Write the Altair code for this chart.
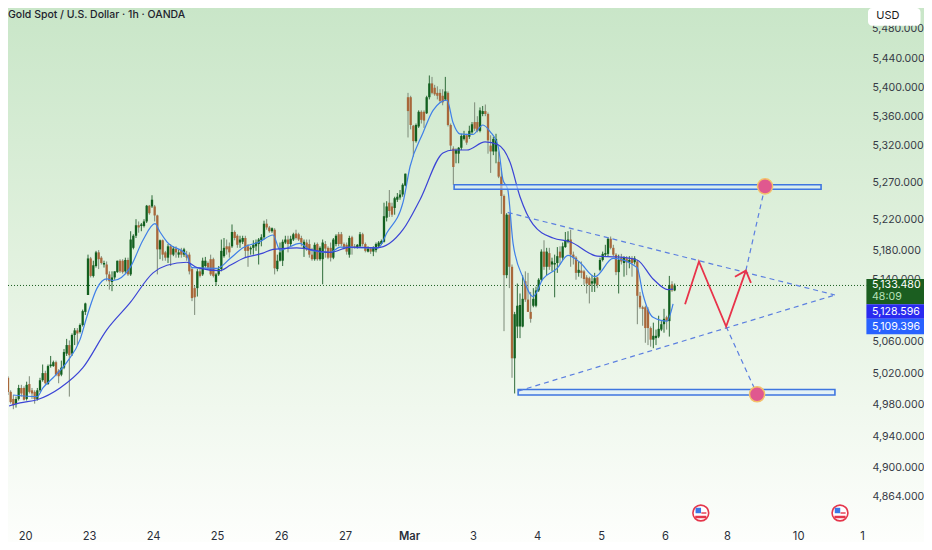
import altair as alt
import pandas as pd

FONT = "Inter"

opens = [5014,4996,4987,4981,4987,5001,5001,4987,5006,4998,4996,4987,4998,5011,5020,5006,5029,5029,5034,5023,
5018,5027,5045,5056,5045,5069,5075,5073,5082,5099,5121,5169,5146,5159,5177,5170,5161,5161,5148,5138,
5144,5151,5166,5166,5152,5167,5148,5183,5199,5213,5212,5212,5218,5239,5238,5238,5226,5181,5193,5177,
5170,5185,5174,5182,5174,5180,5174,5174,5174,5155,5130,5130,5152,5148,5159,5163,5168,5168,5138,5148,
5155,5172,5185,5185,5185,5204,5199,5190,5191,5196,5185,5181,5183,5185,5188,5193,5197,5215,5210,5205,
5207,5155,5166,5166,5190,5194,5188,5194,5202,5201,5196,5182,5190,5188,5174,5168,5188,5168,5168,5188,
5183,5183,5170,5188,5201,5201,5188,5187,5174,5197,5185,5184,5185,5201,5188,5178,5182,5178,5180,5185,
5188,5191,5223,5243,5238,5236,5247,5250,5254,5266,5386,5386,5347,5326,5346,5366,5366,5364,5386,5405,
5399,5392,5392,5388,5383,5392,5348,5316,5309,5309,5317,5329,5334,5332,5338,5352,5352,5340,5363,5367,
5363,5320,5312,5312,5298,5278,5252,5147,5227,5158,5039,5080,5080,5080,5139,5115,5099,5107,5107,5127,
5141,5178,5158,5176,5161,5161,5163,5178,5170,5184,5191,5194,5174,5170,5150,5153,5152,5144,5143,5136,
5136,5144,5154,5167,5174,5175,5195,5183,5174,5151,5170,5163,5169,5164,5169,5164,5165,5120,5105,5105,
5102,5078,5063,5065,5067,5076,5083,5092,5087,5135,5127]
highs = [5016,4998,4992,4990,5005,5005,5003,5009,5016,5001,4998,5001,5014,5031,5023,5031,5042,5036,5036,5025,
5036,5051,5064,5062,5071,5078,5078,5084,5102,5111,5174,5171,5166,5179,5180,5172,5166,5165,5152,5152,
5152,5166,5168,5168,5170,5170,5205,5201,5221,5218,5216,5221,5240,5240,5253,5240,5227,5194,5194,5179,
5188,5188,5185,5185,5181,5183,5183,5179,5177,5157,5133,5155,5157,5170,5171,5165,5174,5170,5150,5159,
5194,5196,5194,5190,5214,5206,5201,5199,5199,5199,5188,5185,5193,5194,5196,5201,5219,5221,5212,5210,
5209,5174,5190,5194,5199,5199,5199,5203,5207,5203,5199,5194,5194,5194,5183,5190,5190,5185,5194,5192,
5185,5190,5196,5201,5204,5204,5190,5190,5199,5199,5188,5188,5204,5203,5190,5185,5184,5185,5190,5192,
5194,5243,5245,5260,5243,5251,5256,5260,5269,5282,5392,5388,5348,5350,5368,5368,5368,5388,5416,5414,
5403,5401,5397,5397,5414,5394,5350,5319,5316,5318,5336,5340,5336,5347,5352,5379,5360,5372,5374,5376,
5365,5334,5332,5336,5312,5289,5254,5229,5229,5161,5099,5136,5123,5147,5152,5150,5125,5130,5132,5143,
5181,5193,5183,5183,5170,5174,5184,5185,5190,5204,5205,5207,5178,5172,5165,5165,5154,5147,5145,5147,
5150,5145,5170,5178,5187,5197,5198,5187,5176,5174,5175,5172,5172,5172,5172,5172,5167,5125,5107,5107,
5105,5080,5085,5076,5094,5087,5103,5094,5146,5139,5136]
lows = [4992,4981,4974,4976,4985,4990,4985,4985,4994,4987,4981,4985,4996,5009,5005,5005,5027,5028,5016,5007,
5016,5025,5042,4990,5042,5056,5056,5071,5080,5095,5121,5144,5144,5157,5155,5161,5157,5139,5128,5126,
5141,5150,5150,5149,5150,5146,5146,5181,5196,5203,5205,5210,5216,5227,5236,5218,5148,5168,5166,5166,
5163,5159,5172,5170,5170,5170,5171,5166,5148,5113,5095,5119,5144,5146,5157,5155,5146,5144,5133,5146,
5152,5170,5174,5170,5183,5193,5183,5183,5188,5170,5158,5174,5174,5179,5161,5185,5194,5207,5203,5203,
5148,5152,5165,5159,5188,5177,5185,5192,5194,5192,5185,5171,5179,5170,5166,5166,5166,5166,5135,5170,
5168,5165,5168,5185,5185,5185,5181,5174,5170,5174,5182,5182,5183,5185,5177,5177,5175,5172,5177,5183,
5187,5190,5218,5224,5224,5227,5244,5247,5251,5265,5331,5342,5305,5324,5344,5350,5344,5363,5383,5390,
5388,5383,5379,5375,5381,5346,5313,5267,5296,5296,5314,5327,5321,5329,5336,5340,5338,5338,5360,5360,
5309,5283,5307,5296,5276,5228,5074,5143,5130,5014,4994,5065,5065,5079,5112,5099,5085,5105,5105,5125,
5138,5154,5147,5154,5152,5118,5150,5161,5167,5183,5189,5158,5161,5141,5145,5143,5134,5123,5110,5125,
5125,5130,5152,5165,5172,5172,5181,5172,5147,5123,5161,5145,5147,5156,5145,5161,5083,5103,5081,5059,
5056,5054,5052,5056,5065,5074,5072,5076,5067,5125,5126]
closes = [4996,4983,4979,4987,5001,4994,4986,5005,4996,4994,4987,4998,5011,5020,5007,5029,5031,5034,5018,5016,
5027,5047,5056,5043,5069,5075,5071,5082,5100,5110,5169,5146,5160,5177,5168,5163,5163,5148,5139,5144,
5152,5166,5152,5151,5167,5148,5194,5199,5213,5210,5214,5218,5239,5229,5247,5226,5181,5193,5174,5170,
5185,5174,5182,5177,5177,5174,5181,5170,5152,5117,5118,5152,5146,5166,5166,5157,5148,5146,5148,5155,
5179,5183,5181,5177,5204,5196,5187,5194,5196,5179,5179,5183,5187,5190,5194,5197,5215,5210,5205,5209,
5156,5166,5177,5191,5194,5188,5195,5201,5196,5194,5190,5191,5181,5174,5168,5187,5168,5183,5190,5182,
5170,5170,5194,5199,5188,5188,5183,5178,5196,5185,5184,5187,5201,5188,5179,5182,5178,5183,5188,5190,
5192,5225,5238,5232,5227,5249,5251,5254,5267,5282,5367,5348,5326,5348,5366,5355,5354,5386,5405,5392,
5390,5388,5381,5379,5394,5348,5320,5291,5314,5317,5333,5334,5324,5340,5349,5343,5340,5368,5367,5363,
5327,5312,5329,5329,5278,5252,5147,5227,5158,5039,5096,5107,5108,5116,5115,5099,5090,5116,5127,5141,
5178,5158,5178,5158,5165,5163,5172,5170,5185,5193,5194,5174,5170,5150,5154,5150,5142,5136,5134,5139,
5143,5134,5167,5175,5176,5195,5183,5174,5151,5167,5165,5170,5164,5167,5163,5169,5120,5105,5103,5078,
5078,5063,5068,5068,5077,5083,5090,5087,5134,5127,5133.48]

fast_bars = [4.9,13.9,16.1,19.9,25.1,30,32.6,36.4,40.1,42.4,48.8,53.6,58.1,60,62.6,70.1,72,81.4,86.3,91.1,97.4,102.4,105,112.5,116.3,123.8,127.5,136.1,141.8,145.1,151.1,153.8,158.6,162.4,167.6,169.9,172.4,177.3,181.1,183.8,186.8,188.6,190.4,192.4,196.1,199.9,203.6,208.9,213,217.4,223.1,229.9,238.9,241.1,244.9,250.1,252.4]
fast_vals = [4992,4990,5001,5014,5034,5063,5093,5130,5142,5140,5157,5193,5215,5204,5191,5173,5157,5156,5169,5183,5191,5200,5180,5189,5180,5177,5184,5183,5183,5203,5243,5292,5337,5368,5382,5351,5336,5335,5348,5339,5319,5274,5261,5189,5144,5119,5142,5156,5173,5164,5145,5169,5157,5122,5092,5087,5109.396]
slow_bars = [3.4,7.5,13.9,22.5,31.1,40.1,48.8,57.4,62.6,70.1,73.9,82.4,86.3,91.1,98.6,102.4,111.3,123.8,131.3,141.4,151.1,157.5,166.1,169.9,175.1,181.9,186.8,191.3,195,199.9,207.4,213.8,223.9,231.4,238.9,244.9,250.5,252.4]
slow_vals = [4978,4982,4986,5001,5027,5076,5111,5150,5160,5164,5157,5153,5160,5169,5176,5181,5183,5177,5184,5183,5207,5247,5310,5314,5314,5325,5321,5297,5251,5214,5196,5191,5172,5171,5167,5142,5128,5128.596]

zone_x1 = [170.3, 194.3]
zone_x2 = [307.9, 313.1]
zone_top = [5267, 4999]
zone_bot = [5261, 4992]

tri_group = ["a", "a", "b", "b", "c", "c", "d", "d"]
tri_bars = [190.4, 313.1, 194.3, 313.1, 272.3, 283.9, 279.7, 286.9]
tri_vals = [5230, 5121, 4997, 5121, 5080, 4993, 5153, 5265]

red_group = ["p", "p", "p", "p", "h", "h", "h"]
red_seq = [0, 1, 2, 3, 0, 1, 2]
red_bars = [256.9, 262.1, 272.3, 279.7, 275.6, 279.7, 281.6]
red_vals = [5109, 5165, 5080, 5153, 5145, 5153, 5137]

circle_bars = [286.9, 283.9]
circle_vals = [5265, 4993]

flag_bars = [262.8, 315.0]
flag_price = [4844, 4844]

tick_bars = [9.4, 33.4, 57.4, 81.4, 105.4, 129.4, 153.4, 177.4, 201.4, 225.4, 249.4, 272.6, 299.3, 323.3]
tick_labels = ["20", "23", "24", "25", "26", "27", "Mar", "3", "4", "5", "6", "8", "10", "1"]
price_ticks = [4864, 4900, 4940, 4980, 5020, 5060, 5180, 5220, 5270, 5320, 5360, 5400, 5440]
covered_ticks = [5140, 5480]
covered_text = ["5,140.000", "5,480.000"]

box_x1 = 324.9
box_x2 = 346.5
box_tops = [5142, 5109, 5090]
box_bots = [5109, 5090, 5070]
box_cols = ["#1b5e20", "#2a2af0", "#2962ff"]
label_vals = [5134.5, 5119, 5099.5, 5080]
label_text = ["5,133.480", "48:09", "5,128.596", "5,109.396"]
label_cols = ["#ffffff", "#b7e1b9", "#ffffff", "#ffffff"]

X_DOMAIN = [3.0, 346.5]
Y_DOMAIN = [4808.3, 5510]
xs = alt.Scale(domain=X_DOMAIN, nice=False, zero=False, padding=0)
ys = alt.Scale(type="log", domain=Y_DOMAIN, nice=False, zero=False)
LABEL_SIZE = 10.6

candles = pd.DataFrame({"bar": list(range(3, 3 + len(opens))), "open": opens, "high": highs, "low": lows, "close": closes})
label_map = ",".join(f"'{b}':'{t}'" for b, t in zip(tick_bars, tick_labels))
x_axis = alt.Axis(values=tick_bars, labelExpr="{" + label_map + "}[datum.value]", title=None, grid=False, ticks=False,
                  domain=False, offset=-12, labelPadding=0, labelFont=FONT, labelFontSize=11.2, labelColor="#2a2e39",
                  labelOverlap=False, labelFlush=False, zindex=1, labelFontWeight=alt.expr("datum.value==153.4?600:400"))
y_axis = alt.Axis(values=price_ticks, format=",.3f", orient="right", title=None, grid=False, ticks=False, domain=False,
                  offset=-52, labelPadding=0, labelFont=FONT, labelFontSize=LABEL_SIZE, labelColor="#363a45", labelAlign="left",
                  labelOverlap=False, labelFlush=False, zindex=1)


def xq(field):
    return alt.X(field + ":Q", scale=xs, axis=x_axis)


def yq(field):
    return alt.Y(field + ":Q", scale=ys, axis=y_axis)


one = pd.DataFrame({"a": [0]})
bg = alt.Chart(one).mark_rect(
    color=alt.Gradient(gradient="linear", x1=0, x2=0, y1=0, y2=1,
                       stops=[alt.GradientStop(offset=0, color="#c9e6c8"), alt.GradientStop(offset=0.5, color="#e3f2e0"), alt.GradientStop(offset=1, color="#fdfefc")])
).encode(x=alt.value(0), x2=alt.value(916), y=alt.value(0), y2=alt.value(534))

last = alt.Chart(pd.DataFrame({"bar": [X_DOMAIN[0]], "end": [box_x1], "price": [closes[-1]]})).mark_rule(
    color="#1b5e20", strokeWidth=1, strokeDash=[1, 2]).encode(x=xq("bar"), x2="end:Q", y=yq("price"))

cond_wick = alt.condition("datum.close>=datum.open", alt.value("#2f6b3a"), alt.value("#7d8a78"))
cond_body = alt.condition("datum.close>=datum.open", alt.value("#12601f"), alt.value("#a8673a"))
wicks = alt.Chart(candles).mark_rule(strokeWidth=1).encode(x=xq("bar"), y=yq("low"), y2="high:Q", color=cond_wick)
bodies = alt.Chart(candles).mark_bar(size=2.3).encode(x=xq("bar"), y=yq("open"), y2="close:Q", color=cond_body)

fast = alt.Chart(pd.DataFrame({"bar": fast_bars, "price": fast_vals})).mark_line(color="#3f7fe8", strokeWidth=1.2, interpolate="monotone").encode(x=xq("bar"), y=yq("price"))
slow = alt.Chart(pd.DataFrame({"bar": slow_bars, "price": slow_vals})).mark_line(color="#3b44d6", strokeWidth=1.2, interpolate="monotone").encode(x=xq("bar"), y=yq("price"))

zones = alt.Chart(pd.DataFrame({"x1": zone_x1, "x2": zone_x2, "top": zone_top, "bot": zone_bot})).mark_rect(
    fill="#dceefb", fillOpacity=0.6, stroke="#3f76e0", strokeWidth=1.6).encode(x=xq("x1"), x2="x2:Q", y=yq("top"), y2="bot:Q")

tri = alt.Chart(pd.DataFrame({"g": tri_group, "bar": tri_bars, "price": tri_vals})).mark_line(
    color="#5b7fe0", strokeWidth=1.2, strokeDash=[5, 4]).encode(x=xq("bar"), y=yq("price"), detail="g:N")

red = alt.Chart(pd.DataFrame({"g": red_group, "s": red_seq, "bar": red_bars, "price": red_vals})).mark_line(
    color="#e8334a", strokeWidth=1.8).encode(x=xq("bar"), y=yq("price"), detail="g:N", order="s:Q")

circles = alt.Chart(pd.DataFrame({"bar": circle_bars, "price": circle_vals})).mark_point(
    shape="circle", filled=True, size=230, fill="#e0588f", fillOpacity=1, stroke="#f4c06a", strokeWidth=1.5, opacity=1).encode(x=xq("bar"), y=yq("price"))

covered = alt.Chart(pd.DataFrame({"bar": [327.0, 327.0], "price": covered_ticks, "t": covered_text})).mark_text(
    align="left", baseline="middle", font=FONT, fontSize=LABEL_SIZE, color="#363a45").encode(x=xq("bar"), y=yq("price"), text="t:N")

boxes = alt.Chart(pd.DataFrame({"x1": [box_x1] * 3, "x2": [box_x2] * 3, "top": box_tops, "bot": box_bots, "c": box_cols})).mark_rect().encode(
    x=xq("x1"), x2="x2:Q", y=yq("top"), y2="bot:Q", color=alt.Color("c:N", scale=None))
box_text = alt.Chart(pd.DataFrame({"bar": [327.0] * 4, "price": label_vals, "t": label_text, "c": label_cols})).mark_text(
    align="left", baseline="middle", font=FONT, fontSize=LABEL_SIZE).encode(x=xq("bar"), y=yq("price"), text="t:N", color=alt.Color("c:N", scale=None))

usd = alt.Chart(pd.DataFrame({"x1": [325.5], "x2": [345.2], "top": [5510], "bot": [5485]})).mark_rect(fill="#ffffff", cornerRadius=4).encode(
    x=xq("x1"), x2="x2:Q", y=yq("top"), y2="bot:Q")
usd_text = alt.Chart(pd.DataFrame({"bar": [328.6], "price": [5499], "t": ["USD"]})).mark_text(
    align="left", baseline="middle", font=FONT, fontSize=11, color="#1a1a1a").encode(x=xq("bar"), y=yq("price"), text="t:N")
title = alt.Chart(pd.DataFrame({"bar": [X_DOMAIN[0]], "price": [5500], "t": ["Gold Spot / U.S. Dollar \u00b7 1h \u00b7 OANDA"]})).mark_text(
    align="left", baseline="middle", font=FONT, fontSize=10.5, fontWeight=500, color="#1e222d").encode(x=xq("bar"), y=yq("price"), text="t:N")

flags = pd.DataFrame({"bar": flag_bars, "price": flag_price})
flags["l"] = flags.bar - 2.1
flags["r"] = flags.bar + 2.1
flags["m"] = flags.bar + 0.2
flag_ring = alt.Chart(flags).mark_point(shape="circle", filled=True, fill="#ffffff", fillOpacity=1, stroke="#e5364b", strokeWidth=1.6, size=250, opacity=1).encode(x=xq("bar"), y=yq("price"))
flag_blue = alt.Chart(flags).mark_point(shape="square", filled=True, color="#3b78e7", size=30, opacity=1, xOffset=-2.5, yOffset=-2.5).encode(x=xq("bar"), y=yq("price"))
flag_low = alt.Chart(flags).mark_rule(color="#e5364b", strokeWidth=2.5, yOffset=4).encode(x=xq("l"), x2="r:Q", y=yq("price"))
flag_mid = alt.Chart(flags).mark_rule(color="#e5364b", strokeWidth=1.4, yOffset=0).encode(x=xq("m"), x2="r:Q", y=yq("price"))

chart = alt.layer(
    bg, last, wicks, bodies, fast, slow, zones, tri, red, circles, covered, boxes, box_text,
    usd, usd_text, title, flag_ring, flag_blue, flag_low, flag_mid
).properties(
    width=916, height=534, padding=0, autosize=alt.AutoSizeParams(type="none")
).configure_view(stroke=None)

chart.save("out.html", embed_options={"renderer": "svg", "actions": False})
